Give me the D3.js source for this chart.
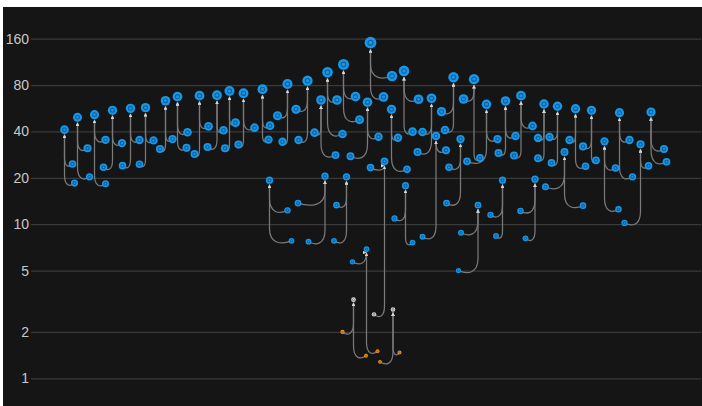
<!DOCTYPE html>
<html>
<head>
<meta charset="utf-8">
<script src="https://cdn.jsdelivr.net/npm/d3@7"></script>
<style>
  html, body { margin: 0; padding: 0; background: #ffffff; }
  svg { display: block; }
</style>
</head>
<body>
<svg id="chart" width="702" height="406"></svg>
<script>
// Log-scale tick labels on the value axis
const tickValues = [1, 2, 5, 10, 20, 40, 80, 160];

// Node positions along the horizontal step axis
const nodeStep = [
  6.7, 8.3, 8.7, 9.3, 11.3, 11.7, 12.7, 14.9, 14.9, 16.3,
  14.5, 18.2, 19.9, 18.3, 21.7, 22.9, 21.7, 24.5, 26.9, 25.8,
  28.3, 29.3, 31.3, 31.1, 33.7, 32.7, 35.5, 37.2, 35.3, 38.5,
  39.7, 38.8, 40.9, 42.5, 41.5, 44.7, 46.3, 47.5, 47.8, 47.7,
  51.3, 52.1, 51.3, 49.3, 50.3, 55.3, 53.0, 53.5, 58.0, 56.7,
  60.9, 58.8, 53.4, 55.5, 59.3, 61.2, 62.3, 62.5, 64.9, 65.7,
  63.1, 61.1, 60.6, 67.1, 64.3, 69.3, 64.5, 62.3, 67.0, 67.3,
  63.9, 69.5, 67.9, 72.2, 70.5, 70.7, 67.9, 68.6, 72.1, 73.4,
  75.2, 72.4, 69.8, 73.7, 74.6, 77.5, 76.3, 74.9, 72.7, 76.3,
  80.1, 78.3, 77.3, 81.0, 83.0, 78.3, 84.5, 82.1, 82.8, 85.9,
  83.6, 83.1, 88.6, 86.5, 89.8, 89.4, 86.0, 85.5, 91.1, 87.2,
  93.3, 94.3, 91.9, 93.0, 94.9, 93.5, 96.9, 98.0, 96.6, 100.3,
  100.8, 97.9, 98.9, 102.6, 101.4, 101.4, 105.3, 103.7, 104.1, 106.7,
  102.9, 110.4, 108.9, 107.7, 110.9, 112.1, 110.4, 113.0, 114.7, 116.9,
  117.5, 117.7, 119.7, 120.3, 121.9, 123.5, 118.7, 124.0, 126.6, 127.1
];

// Node values
const nodeValue = [
  41.1, 24.6, 18.5, 49.4, 31.1, 20.3, 51.4, 35.3, 18.3, 54.9,
  23.4, 33.6, 56.5, 24.0, 35.2, 57.1, 24.5, 35.0, 63.3, 30.8,
  35.7, 67.3, 39.5, 31.3, 68.3, 28.6, 43.2, 68.7, 31.7, 40.7,
  73.3, 31.1, 45.6, 70.8, 32.9, 42.3, 75.1, 35.4, 43.6, 19.3,
  12.3, 7.8, 81.3, 50.6, 34.3, 85.4, 55.7, 35.2, 64.0, 39.3,
  28.1, 20.5, 13.7, 7.7, 96.9, 64.0, 38.5, 109, 67.3, 47.7,
  20.3, 13.3, 7.8, 6.9, 5.7, 1.50, 3.24, 2.0, 1.40, 61.9,
  27.6, 37.0, 150.8, 91.6, 67.0, 25.6, 23.3, 2.60, 55.7, 36.4,
  22.7, 2.80, 1.28, 1.47, 98.8, 64.7, 39.9, 17.8, 10.9, 7.6,
  65.7, 39.7, 29.4, 37.4, 30.2, 8.3, 89.9, 53.8, 40.9, 35.7,
  23.4, 13.7, 87.4, 65.0, 26.9, 13.3, 8.8, 5.0, 60.0, 25.6,
  35.7, 19.3, 11.5, 8.4, 63.1, 29.0, 37.4, 68.3, 27.9, 43.4,
  19.6, 12.2, 8.1, 60.3, 36.3, 26.8, 58.3, 36.8, 25.0, 29.4,
  17.5, 13.2, 56.2, 35.2, 23.8, 54.9, 32.0, 26.0, 34.5, 23.2,
  12.5, 53.0, 35.2, 20.3, 33.0, 23.9, 10.2, 53.5, 30.8, 25.4
];

// Node category: B = blue, W = white, O = orange
const nodeKind = [
  "B","B","B","B","B","B","B","B","B","B",
  "B","B","B","B","B","B","B","B","B","B",
  "B","B","B","B","B","B","B","B","B","B",
  "B","B","B","B","B","B","B","B","B","B",
  "B","B","B","B","B","B","B","B","B","B",
  "B","B","B","B","B","B","B","B","B","B",
  "B","B","B","B","B","O","W","O","O","B",
  "B","B","B","B","B","B","B","W","B","B",
  "B","W","O","O","B","B","B","B","B","B",
  "B","B","B","B","B","B","B","B","B","B",
  "B","B","B","B","B","B","B","B","B","B",
  "B","B","B","B","B","B","B","B","B","B",
  "B","B","B","B","B","B","B","B","B","B",
  "B","B","B","B","B","B","B","B","B","B",
  "B","B","B","B","B","B","B","B","B","B"
];

// Index of each node's parent (-1 for a root)
const nodeParent = [
  -1, 0, 0, -1, 3, 3, -1, 6, 6, -1,
  9, 9, -1, 12, 12, -1, 15, 15, -1, 18,
  18, -1, 21, 21, -1, 24, 24, -1, 27, 27,
  -1, 30, 30, -1, 33, 33, -1, 36, 36, -1,
  39, 39, -1, 42, 42, -1, 45, 45, -1, 48,
  48, -1, 51, 51, -1, 54, 54, -1, 57, 57,
  -1, 60, 60, -1, 63, 63, -1, 66, 66, -1,
  69, 69, -1, 72, 72, -1, 75, 75, -1, 78,
  78, -1, 81, 81, -1, 84, 84, -1, 87, 87,
  -1, 90, 90, -1, 93, 93, -1, 96, 96, -1,
  99, 99, -1, 102, 102, -1, 105, 105, -1, 108,
  108, -1, 111, 111, -1, 114, 114, -1, 117, 117,
  -1, 120, 120, -1, 123, 123, -1, 126, 126, -1,
  129, 129, -1, 132, 132, -1, 135, 135, -1, 138,
  138, -1, 141, 141, -1, 144, 144, -1, 147, 147
];

const kindFill  = { B: "#1797e8", W: "#dcdcdc", O: "#f59c1c" };
const kindInner = { B: "#0a5e9e", W: "#7f7f7f", O: "#a95f08" };

const svg = d3.select("#chart");

// dark panel
svg.append("rect")
  .attr("x", 3).attr("y", 7)
  .attr("width", 699).attr("height", 399)
  .attr("fill", "#151515");

const x = d3.scaleLinear().domain([0, 134]).range([31, 701]);
const y = d3.scaleLog().domain([1, 160]).range([378.3, 38.7]);
const r = d3.scalePow().exponent(0.24).domain([0, 160]).range([0, 6]);

// value axis with full-width gridlines
const axis = d3.axisLeft(y)
  .tickValues(tickValues)
  .tickFormat(d3.format("d"))
  .tickSize(-(701 - 31))
  .tickPadding(2);

const gAxis = svg.append("g")
  .attr("transform", "translate(31,0)")
  .call(axis);
gAxis.select(".domain").remove();
gAxis.selectAll(".tick line")
  .attr("stroke", "#3a3a3a")
  .attr("stroke-width", 1.3);
gAxis.selectAll(".tick text")
  .attr("fill", "#c8c8c8")
  .attr("font-family", "'Liberation Sans', Arial, Helvetica, sans-serif")
  .attr("font-size", 14);

// arrowhead
svg.append("defs").append("marker")
  .attr("id", "arrow")
  .attr("viewBox", "0 -3 6 6")
  .attr("refX", 6).attr("refY", 0)
  .attr("markerWidth", 3.6).attr("markerHeight", 3.6)
  .attr("markerUnits", "userSpaceOnUse")
  .attr("orient", "auto")
  .append("path")
  .attr("d", "M0,-3L6,0L0,3Z")
  .attr("fill", "#d6d6d6");

const nodes = nodeValue.map((v, i) => ({
  i, v, step: nodeStep[i], kind: nodeKind[i], parent: nodeParent[i]
}));
const links = nodes.filter(d => d.parent >= 0).map(d => ({ child: d, parent: nodes[d.parent] }));

// child -> parent: a rounded hook under the child, then straight up to the parent
function linkPath(l) {
  const xc = x(l.child.step), yc = y(l.child.v);
  const xp = x(l.parent.step), yp = y(l.parent.v) + r(l.parent.v) + 0.6;
  const dx = xc - xp;
  const bend = Math.min(12, Math.max(5, Math.abs(dx) * 0.8));
  const turn = Math.max(yp, yc - bend);
  return `M${xc},${yc}C${xc - dx * 0.45},${yc + 4} ${xp},${yc + 3} ${xp},${turn}L${xp},${yp}`;
}

svg.append("g")
  .attr("fill", "none")
  .attr("stroke", "#7a7a7a")
  .attr("stroke-width", 1.25)
  .selectAll("path")
  .data(links)
  .join("path")
  .attr("d", linkPath)
  .attr("marker-end", "url(#arrow)");

const gNode = svg.append("g")
  .selectAll("g")
  .data(nodes)
  .join("g")
  .attr("transform", d => `translate(${x(d.step)},${y(d.v)})`);

gNode.append("circle")
  .attr("r", d => r(d.v))
  .attr("fill", d => kindFill[d.kind]);

gNode.append("circle")
  .attr("r", d => Math.max(0.7, r(d.v) * 0.42))
  .attr("fill", "none")
  .attr("stroke", d => kindInner[d.kind])
  .attr("stroke-width", d => r(d.v) > 3 ? 1.1 : 0.9);
</script>
</body>
</html>
